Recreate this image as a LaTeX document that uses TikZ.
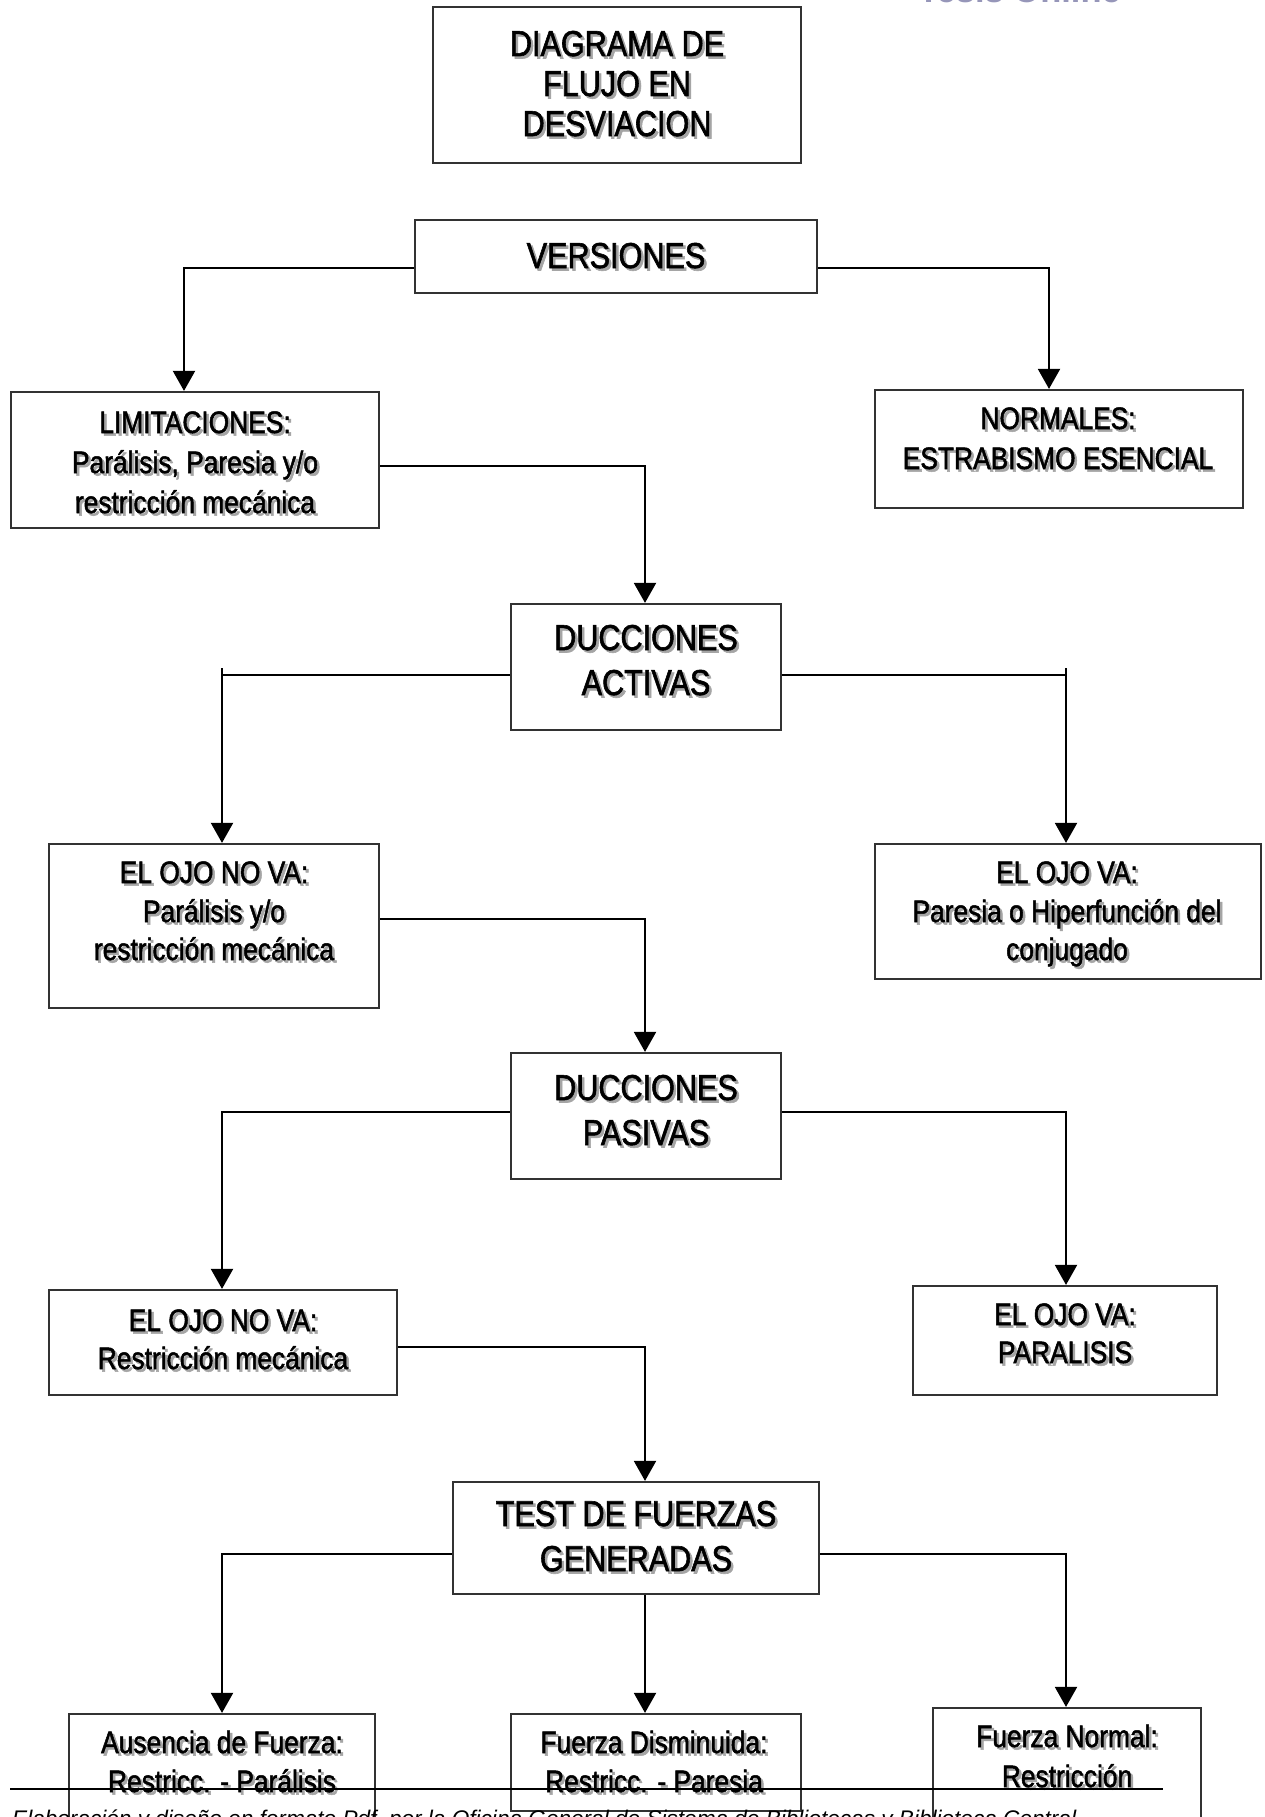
\documentclass[tikz,border=0pt]{standalone}
\usepackage{fontspec}
\setmainfont{Liberation Sans}
\newfontfamily\narrowfont{Liberation Sans}[FakeStretch=0.85,FakeBold=1.6]
\usetikzlibrary{arrows.meta}
\definecolor{shadowc}{RGB}{165,165,165}
\definecolor{boxc}{RGB}{50,50,50}
\definecolor{tesisc}{RGB}{150,150,185}
\newcommand\shd[1]{\rlap{\kern2.5pt\raisebox{-2.5pt}{\textcolor{shadowc}{#1}}}#1}
\begin{document}
\begin{tikzpicture}[x=1pt,y=-1pt,
  box/.style={draw=boxc, line width=2.2pt, fill=white, inner sep=0pt, rectangle},
  big/.style={font=\narrowfont\fontsize{36}{44}\selectfont, inner sep=0pt, anchor=base},
  small/.style={font=\narrowfont\fontsize{31}{39}\selectfont, inner sep=0pt, anchor=base},
  conn/.style={line width=2pt, black},
  arr/.style={conn, -{Triangle[length=20pt,width=22pt]}},
]
\useasboundingbox (0,0) rectangle (1264,1817);
\clip (0,0) rectangle (1264,1817);

% header mark
\node[font=\bfseries\fontsize{34.5}{40}\selectfont, text=tesisc, anchor=base west, inner sep=0pt] (tesis) at (918,3) {Tesis Online};

% boxes
\node[box, minimum width=368pt, minimum height=156pt] (title) at (617,85) {};
\node[box, minimum width=402pt, minimum height=73pt] (vers) at (616,256.5) {};
\node[box, minimum width=368pt, minimum height=136pt] (lim) at (195,460) {};
\node[box, minimum width=368pt, minimum height=118pt] (norm) at (1059,449) {};
\node[box, minimum width=270pt, minimum height=126pt] (dact) at (646,667) {};
\node[box, minimum width=330pt, minimum height=164pt] (nova1) at (214,926) {};
\node[box, minimum width=386pt, minimum height=135pt] (va1) at (1068,911.5) {};
\node[box, minimum width=270pt, minimum height=126pt] (dpas) at (646,1116) {};
\node[box, minimum width=348pt, minimum height=105pt] (nova2) at (223,1342.5) {};
\node[box, minimum width=304pt, minimum height=109pt] (va2) at (1065,1340.5) {};
\node[box, minimum width=366pt, minimum height=112pt] (test) at (636,1538) {};
\node[box, minimum width=306pt, minimum height=120pt] (aus) at (222,1774) {};
\node[box, minimum width=290pt, minimum height=97pt] (dis) at (656,1762.5) {};
\node[box, minimum width=268pt, minimum height=124pt] (fnorm) at (1067,1770) {};

% texts
\node[big] (t1a) at (617,56) {\shd{DIAGRAMA DE}};
\node[big] (t1b) at (617,96) {\shd{FLUJO EN}};
\node[big] (t1c) at (617,136) {\shd{DESVIACION}};
\node[big] (t2) at (616,268) {\shd{VERSIONES}};
\node[small] (t3a) at (195,433) {\shd{LIMITACIONES:}};
\node[small] (t3b) at (195,473) {\shd{Parálisis, Paresia y/o}};
\node[small] (t3c) at (195,513) {\shd{restricción mecánica}};
\node[small] (t4a) at (1058,429) {\shd{NORMALES:}};
\node[small] (t4b) at (1058,469) {\shd{ESTRABISMO ESENCIAL}};
\node[big] (t5a) at (646,650) {\shd{DUCCIONES}};
\node[big] (t5b) at (646,695) {\shd{ACTIVAS}};
\node[small] (t6a) at (214,883) {\shd{EL OJO NO VA:}};
\node[small] (t6b) at (214,922) {\shd{Parálisis y/o}};
\node[small] (t6c) at (214,960) {\shd{restricción mecánica}};
\node[small] (t7a) at (1067,883) {\shd{EL OJO VA:}};
\node[small] (t7b) at (1067,922) {\shd{Paresia o Hiperfunción del}};
\node[small] (t7c) at (1067,960) {\shd{conjugado}};
\node[big] (t8a) at (646,1100) {\shd{DUCCIONES}};
\node[big] (t8b) at (646,1145) {\shd{PASIVAS}};
\node[small] (t9a) at (223,1331) {\shd{EL OJO NO VA:}};
\node[small] (t9b) at (223,1369) {\shd{Restricción mecánica}};
\node[small] (t10a) at (1065,1325) {\shd{EL OJO VA:}};
\node[small] (t10b) at (1065,1363) {\shd{PARALISIS}};
\node[big] (t11a) at (636,1526) {\shd{TEST DE FUERZAS}};
\node[big] (t11b) at (636,1571) {\shd{GENERADAS}};
\node[small] (t12a) at (222,1753) {\shd{Ausencia de Fuerza:}};
\node[small] (t12b) at (222,1792) {\shd{Restricc. - Parálisis}};
\node[small] (t13a) at (654,1753) {\shd{Fuerza Disminuida:}};
\node[small] (t13b) at (654,1792) {\shd{Restricc. - Paresia}};
\node[small] (t14a) at (1067,1747) {\shd{Fuerza Normal:}};
\node[small] (t14b) at (1067,1787) {\shd{Restricción}};

% connectors
\draw[arr] ([yshift=-11.5pt]vers.west) -| ([xshift=-11pt]lim.north);
\draw[arr] ([yshift=-11.5pt]vers.east) -| ([xshift=-10pt]norm.north);
\draw[arr] ([yshift=-6pt]lim.east) -| ([xshift=-1pt]dact.north);
\coordinate (tk1) at (222,668);
\coordinate (tk2) at (1066,668);
\draw[conn] ([yshift=-8pt]dact.west) -| (tk1);
\draw[arr] (tk1) -- ([xshift=8pt]nova1.north);
\draw[conn] ([yshift=-8pt]dact.east) -| (tk2);
\draw[arr] (tk2) -- ([xshift=-2pt]va1.north);
\draw[arr] ([yshift=7pt]nova1.east) -| ([xshift=-1pt]dpas.north);
\draw[arr] ([yshift=4pt]dpas.west) -| ([xshift=-1pt]nova2.north);
\draw[arr] ([yshift=4pt]dpas.east) -| ([xshift=1pt]va2.north);
\draw[arr] ([yshift=-4.5pt]nova2.east) -| ([xshift=9pt]test.north);
\draw[arr] ([yshift=-16pt]test.west) -| (aus.north);
\draw[arr] ([yshift=-16pt]test.east) -| ([xshift=-1pt]fnorm.north);
\draw[arr] ([xshift=9pt]test.south) -- ([xshift=-11pt]dis.north);

% footer
\coordinate (fl1) at (10,1789);
\coordinate (fl2) at (1163,1789);
\draw[conn] (fl1) -- (fl2);
\node[font=\itshape\fontsize{22.6}{26}\selectfont, anchor=base west, inner sep=0pt] (foot) at (12,1826) {Elaboración y diseño en formato Pdf, por la Oficina General de Sistema de Bibliotecas y Biblioteca Central};
\end{tikzpicture}
\end{document}
